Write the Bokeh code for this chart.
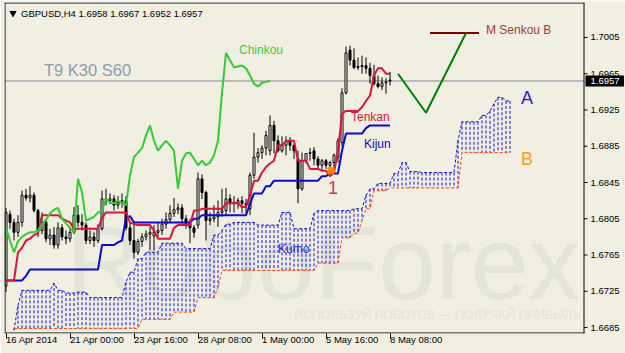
import numpy as np
from bokeh.plotting import figure
from bokeh.models import Range1d, LinearAxis, FixedTicker
from bokeh.embed import file_html
from bokeh.resources import INLINE
from bokeh.core.properties import value

# ---------------- data ----------------
title_text = "GBPUSD,H4  1.6958 1.6967 1.6952 1.6957"
settings_text = "T9 K30 S60"
price_ticks = [1.6685, 1.6725, 1.6765, 1.6805, 1.6845, 1.6885, 1.6925, 1.6965, 1.7005]
price_tick_labels = ["1.6685", "1.6725", "1.6765", "1.6805", "1.6845", "1.6885", "1.6925",
                     "1.6965", "1.7005"]
time_tick_bars = [0, 16, 32, 48, 64, 80, 96]
time_tick_labels = ["16 Apr 2014", "21 Apr 00:00", "23 Apr 16:00", "28 Apr 08:00",
                    "1 May 00:00", "5 May 16:00", "8 May 08:00"]
last_price = 1.6957
last_price_label = "1.6957"
shift = 30

opens = [1.6731, 1.6810, 1.6801, 1.6790, 1.6801, 1.6831, 1.6828, 1.6831, 1.6814, 1.6792,
         1.6801, 1.6783, 1.6787, 1.6776, 1.6795, 1.6785, 1.6783, 1.6790, 1.6809, 1.6801,
         1.6798, 1.6781, 1.6785, 1.6781, 1.6794, 1.6827, 1.6825, 1.6827, 1.6820, 1.6823,
         1.6825, 1.6795, 1.6781, 1.6768, 1.6780, 1.6785, 1.6788, 1.6786, 1.6790, 1.6792,
         1.6799, 1.6804, 1.6811, 1.6815, 1.6817, 1.6805, 1.6800, 1.6795, 1.6798, 1.6849,
         1.6834, 1.6803, 1.6805, 1.6807, 1.6812, 1.6814, 1.6827, 1.6823, 1.6822, 1.6825,
         1.6822, 1.6816, 1.6853, 1.6873, 1.6878, 1.6883, 1.6880, 1.6908, 1.6891, 1.6880,
         1.6886, 1.6891, 1.6886, 1.6871, 1.6838, 1.6869, 1.6877, 1.6880, 1.6871, 1.6864,
         1.6869, 1.6864, 1.6867, 1.6873, 1.6889, 1.6944, 1.6991, 1.6980, 1.6972, 1.6973,
         1.6974, 1.6971, 1.6963, 1.6954, 1.6951, 1.6955, 1.6958]
highs = [1.6817, 1.6814, 1.6805, 1.6809, 1.6836, 1.6838, 1.6841, 1.6834, 1.6816, 1.6812,
         1.6805, 1.6794, 1.6796, 1.6801, 1.6799, 1.6792, 1.6796, 1.6818, 1.6820, 1.6810,
         1.6801, 1.6792, 1.6790, 1.6799, 1.6836, 1.6838, 1.6833, 1.6831, 1.6830, 1.6833,
         1.6830, 1.6801, 1.6798, 1.6783, 1.6789, 1.6792, 1.6796, 1.6798, 1.6801, 1.6805,
         1.6812, 1.6820, 1.6828, 1.6822, 1.6821, 1.6809, 1.6805, 1.6798, 1.6856, 1.6854,
         1.6836, 1.6812, 1.6820, 1.6825, 1.6838, 1.6839, 1.6832, 1.6830, 1.6828, 1.6830,
         1.6827, 1.6856, 1.6900, 1.6883, 1.6886, 1.6902, 1.6919, 1.6913, 1.6897, 1.6896,
         1.6896, 1.6895, 1.6887, 1.6880, 1.6878, 1.6877, 1.6883, 1.6884, 1.6874, 1.6871,
         1.6871, 1.6869, 1.6877, 1.6894, 1.6949, 1.6995, 1.6996, 1.6993, 1.6983, 1.6985,
         1.6983, 1.6977, 1.6975, 1.6963, 1.6961, 1.6960, 1.6967]
lows = [1.6724, 1.6794, 1.6781, 1.6785, 1.6796, 1.6825, 1.6823, 1.6812, 1.6785, 1.6788,
        1.6779, 1.6776, 1.6772, 1.6772, 1.6781, 1.6777, 1.6779, 1.6788, 1.6796, 1.6792,
        1.6777, 1.6777, 1.6774, 1.6778, 1.6792, 1.6820, 1.6821, 1.6814, 1.6816, 1.6817,
        1.6792, 1.6776, 1.6761, 1.6765, 1.6774, 1.6781, 1.6770, 1.6770, 1.6785, 1.6787,
        1.6794, 1.6801, 1.6807, 1.6810, 1.6799, 1.6794, 1.6778, 1.6784, 1.6794, 1.6827,
        1.6781, 1.6798, 1.6801, 1.6796, 1.6807, 1.6809, 1.6812, 1.6812, 1.6816, 1.6811,
        1.6809, 1.6809, 1.6849, 1.6867, 1.6871, 1.6875, 1.6875, 1.6877, 1.6878, 1.6878,
        1.6875, 1.6880, 1.6871, 1.6822, 1.6836, 1.6866, 1.6869, 1.6864, 1.6860, 1.6858,
        1.6860, 1.6858, 1.6860, 1.6867, 1.6885, 1.6942, 1.6974, 1.6970, 1.6969, 1.6965,
        1.6965, 1.6954, 1.6952, 1.6949, 1.6947, 1.6943, 1.6952]
closes = [1.6812, 1.6801, 1.6790, 1.6801, 1.6831, 1.6828, 1.6831, 1.6814, 1.6792, 1.6801,
          1.6783, 1.6787, 1.6776, 1.6795, 1.6785, 1.6783, 1.6790, 1.6809, 1.6801, 1.6798,
          1.6781, 1.6785, 1.6781, 1.6794, 1.6827, 1.6825, 1.6827, 1.6820, 1.6823, 1.6825,
          1.6795, 1.6781, 1.6768, 1.6780, 1.6785, 1.6788, 1.6790, 1.6790, 1.6792, 1.6799,
          1.6804, 1.6811, 1.6815, 1.6817, 1.6805, 1.6800, 1.6795, 1.6790, 1.6849, 1.6834,
          1.6803, 1.6805, 1.6807, 1.6812, 1.6814, 1.6827, 1.6823, 1.6822, 1.6825, 1.6822,
          1.6820, 1.6853, 1.6873, 1.6878, 1.6883, 1.6897, 1.6908, 1.6891, 1.6880, 1.6886,
          1.6891, 1.6886, 1.6880, 1.6838, 1.6869, 1.6877, 1.6878, 1.6871, 1.6864, 1.6869,
          1.6864, 1.6867, 1.6875, 1.6891, 1.6944, 1.6988, 1.6980, 1.6972, 1.6973, 1.6974,
          1.6971, 1.6963, 1.6954, 1.6951, 1.6955, 1.6956, 1.6957]

tenkan = [1.6737, 1.6737, 1.6737, 1.6768, 1.6773, 1.6781, 1.6783, 1.6787, 1.6789, 1.6809,
          1.6809, 1.6809, 1.6809, 1.6809, 1.6805, 1.6803, 1.6801, 1.6794, 1.6794, 1.6794,
          1.6794, 1.6794, 1.6794, 1.6794, 1.6806, 1.6812, 1.6812, 1.6812, 1.6812, 1.6812,
          1.6812, 1.6801, 1.6799, 1.6798, 1.6798, 1.6798, 1.6798, 1.6792, 1.6783, 1.6783,
          1.6783, 1.6783, 1.6795, 1.6798, 1.6798, 1.6798, 1.6798, 1.6814, 1.6814, 1.6816,
          1.6816, 1.6816, 1.6816, 1.6816, 1.6816, 1.6822, 1.6822, 1.6822, 1.6822, 1.6818,
          1.6818, 1.6831, 1.6847, 1.6847, 1.6856, 1.6862, 1.6866, 1.6869, 1.6886, 1.6886,
          1.6891, 1.6891, 1.6891, 1.6869, 1.6869, 1.6869, 1.6860, 1.6860, 1.6860, 1.6858,
          1.6858, 1.6852, 1.6856, 1.6880, 1.6921, 1.6924, 1.6924, 1.6924, 1.6924, 1.6928,
          1.6935, 1.6941, 1.6963, 1.6971, 1.6971, 1.6965, 1.6965]
kijun = [1.6737, 1.6737, 1.6737, 1.6737, 1.6737, 1.6742, 1.6749, 1.6749, 1.6749, 1.6749,
         1.6749, 1.6749, 1.6749, 1.6749, 1.6749, 1.6749, 1.6749, 1.6749, 1.6749, 1.6749,
         1.6749, 1.6749, 1.6749, 1.6749, 1.6776, 1.6776, 1.6776, 1.6776, 1.6779, 1.6781,
         1.6806, 1.6808, 1.6801, 1.6801, 1.6801, 1.6801, 1.6801, 1.6801, 1.6801, 1.6801,
         1.6801, 1.6801, 1.6801, 1.6801, 1.6801, 1.6801, 1.6801, 1.6805, 1.6805, 1.6809,
         1.6809, 1.6809, 1.6809, 1.6809, 1.6809, 1.6809, 1.6809, 1.6809, 1.6809, 1.6809,
         1.6809, 1.6821, 1.6833, 1.6833, 1.6833, 1.6841, 1.6841, 1.6847, 1.6847, 1.6847,
         1.6847, 1.6847, 1.6847, 1.6847, 1.6847, 1.6847, 1.6847, 1.6847, 1.6847, 1.6852,
         1.6852, 1.6855, 1.6855, 1.6855, 1.6880, 1.6899, 1.6899, 1.6899, 1.6899, 1.6899,
         1.6905, 1.6908, 1.6908, 1.6908, 1.6908, 1.6908, 1.6908]

cloud_first_bar = 2
senkou_a = [1.6682, 1.6709, 1.6726, 1.6726, 1.6726, 1.6726, 1.6726, 1.6726, 1.6726, 1.6726,
            1.6734, 1.6726, 1.6726, 1.6723, 1.6723, 1.6723, 1.6724, 1.6724, 1.6724, 1.6718,
            1.6718, 1.6718, 1.6718, 1.6718, 1.6718, 1.6718, 1.6718, 1.6718, 1.6735, 1.6746,
            1.6746, 1.6761, 1.6761, 1.6768, 1.6768, 1.6768, 1.6768, 1.6778, 1.6778, 1.6778,
            1.6778, 1.6778, 1.6778, 1.6772, 1.6772, 1.6772, 1.6772, 1.6772, 1.6772, 1.6772,
            1.6787, 1.6787, 1.6792, 1.6799, 1.6799, 1.6801, 1.6801, 1.6801, 1.6801, 1.6801,
            1.6801, 1.6798, 1.6798, 1.6798, 1.6798, 1.6798, 1.6798, 1.6812, 1.6812, 1.6812,
            1.6794, 1.6794, 1.6794, 1.6794, 1.6794, 1.6811, 1.6814, 1.6814, 1.6814, 1.6814,
            1.6814, 1.6814, 1.6814, 1.6814, 1.6814, 1.6816, 1.6816, 1.6816, 1.6831, 1.6838,
            1.6838, 1.6844, 1.6844, 1.6844, 1.6844, 1.6855, 1.6855, 1.6867, 1.6867, 1.6857,
            1.6857, 1.6857, 1.6856, 1.6856, 1.6856, 1.6856, 1.6856, 1.6856, 1.6856, 1.6856,
            1.6856, 1.6891, 1.6912, 1.6912, 1.6912, 1.6912, 1.6912, 1.6919, 1.6919, 1.6924,
            1.6932, 1.6939, 1.6939, 1.6935, 1.6935]
senkou_b = [1.6684, 1.6684, 1.6684, 1.6684, 1.6684, 1.6684, 1.6684, 1.6684, 1.6684, 1.6684,
            1.6684, 1.6684, 1.6684, 1.6684, 1.6684, 1.6684, 1.6684, 1.6684, 1.6684, 1.6684,
            1.6684, 1.6684, 1.6684, 1.6684, 1.6684, 1.6684, 1.6684, 1.6684, 1.6684, 1.6684,
            1.6684, 1.6684, 1.6694, 1.6694, 1.6694, 1.6694, 1.6694, 1.6694, 1.6694, 1.6694,
            1.6702, 1.6702, 1.6702, 1.6702, 1.6702, 1.6702, 1.6718, 1.6718, 1.6718, 1.6718,
            1.6718, 1.6729, 1.6748, 1.6748, 1.6748, 1.6748, 1.6748, 1.6748, 1.6748, 1.6748,
            1.6748, 1.6748, 1.6748, 1.6748, 1.6748, 1.6748, 1.6748, 1.6748, 1.6748, 1.6748,
            1.6748, 1.6748, 1.6748, 1.6748, 1.6748, 1.6748, 1.6756, 1.6756, 1.6756, 1.6756,
            1.6756, 1.6756, 1.6784, 1.6784, 1.6784, 1.6789, 1.6789, 1.6803, 1.6816, 1.6816,
            1.6836, 1.6836, 1.6836, 1.6836, 1.6839, 1.6839, 1.6839, 1.6839, 1.6839, 1.6839,
            1.6839, 1.6839, 1.6839, 1.6839, 1.6839, 1.6839, 1.6839, 1.6839, 1.6839, 1.6839,
            1.6839, 1.6839, 1.6878, 1.6878, 1.6878, 1.6878, 1.6878, 1.6878, 1.6878, 1.6878,
            1.6878, 1.6878, 1.6878, 1.6878, 1.6878]

# hand-drawn forecast path and monthly Senkou B level
forecast_bars = [98, 105, 115]
forecast_prices = [1.6965, 1.6922, 1.7010]
monthly_sb_bars = [106, 118.25]
monthly_sb_price = 1.7010

# ---------------- layout constants (bar index / price units) ----------------
X0, X1 = -0.375, 154.875          # whole drawing area incl. price scale
Y0, Y1 = 1.66784, 1.70436
CHART_R = 144.5                   # right border of the chart window
PX = 0.25                         # one pixel in bar units
PY = 0.0001103                    # one pixel in price units

BG = "#f1efe2"
FONT = "Liberation Sans"
WM = "#e3e4da"

p = figure(width=625, height=353, x_range=Range1d(X0, X1), y_range=Range1d(Y0, Y1),
           output_backend="svg", toolbar_location=None,
           x_axis_location=None, y_axis_location=None,
           min_border_left=4, min_border_right=0, min_border_top=2, min_border_bottom=20,
           background_fill_color=BG, border_fill_color=BG, outline_line_color=None)
p.xgrid.visible = False
p.ygrid.visible = False

xaxis = LinearAxis(ticker=FixedTicker(ticks=time_tick_bars),
                   major_label_overrides=dict(zip(time_tick_bars, time_tick_labels)),
                   major_tick_in=0, major_tick_out=5, minor_tick_in=0, minor_tick_out=0,
                   major_label_standoff=1, major_label_orientation=-0.0001,
                   major_label_text_font=FONT, major_label_text_font_size="9.5px",
                   major_label_text_color="black",
                   axis_line_color=None, major_tick_line_color="black")
p.add_layout(xaxis, "below")

# watermark
p.text(x=[15], y=[1.67567], text=["RoboForex"], text_font=value(FONT), text_font_size="104px",
       text_color=WM, text_align="left", text_baseline="middle")
p.text(x=[72], y=[1.66993], text=["ИСПОЛЬЗУЙ РОБОТОВ — ПОЛУЧАЙ ПРИБЫЛЬ"], text_font=value(FONT),
       text_font_size="12.5px", text_color=WM, text_align="left", text_baseline="middle")

# cloud (kumo) hatching
kb = np.arange(len(senkou_a)) + cloud_first_bar
p.segment(x0=kb, y0=senkou_a, x1=kb, y1=senkou_b, line_color="#1010e0", line_width=1,
          line_dash="3 2")
p.line(kb, senkou_a, line_color="#1010e0", line_width=1, line_dash="3 2")
p.line(kb, senkou_b, line_color="#ff4500", line_width=1, line_dash="3 2")

# bid line
p.segment(x0=[X0], y0=[last_price], x1=[CHART_R], y1=[last_price], line_color="#7f8a94",
          line_width=1)

# candles
bars = np.arange(len(opens))
o = np.array(opens); c = np.array(closes)
up = c >= o
p.segment(x0=bars, y0=lows, x1=bars, y1=highs, line_color="black", line_width=1)
p.vbar(x=bars[up], top=c[up], bottom=o[up], width=0.5, fill_color="white", line_color="black",
       line_width=1)
p.vbar(x=bars[~up], top=o[~up], bottom=c[~up], width=0.5, fill_color="black", line_color="black",
       line_width=1)

# Ichimoku lines
p.line(bars, kijun, line_color="#0a0ad0", line_width=2)
p.line(bars, tenkan, line_color="#dc143c", line_width=2)
p.line(bars[shift:] - shift, closes[shift:], line_color="#32cd32", line_width=2)

# forecast and monthly Senkou B
p.line(monthly_sb_bars, [monthly_sb_price, monthly_sb_price], line_color="#800000", line_width=2)
p.line(forecast_bars, forecast_prices, line_color="#008000", line_width=2)

# cross marker
p.scatter(x=[81.25], y=[1.6858], marker="square", size=6, fill_color="#ff8c00",
          line_color="#ff8c00")

def txt(x, y, s, color, size, align="left"):
    p.text(x=[x], y=[y], text=[s], text_font=value(FONT), text_font_size=size,
           text_color=color, text_align=align, text_baseline="middle")

txt(58.25, 1.6991, "Chinkou", "#3ccc3c", "12px")
txt(86.25, 1.6917, "Tenkan", "#dc143c", "12px")
txt(89.5, 1.6888, "Kijun", "#0a0ad0", "12px")
txt(68, 1.6772, "Kumo", "#2424d8", "12px")
txt(81.75, 1.6839, "1", "#e0305a", "18px", "center")
txt(128.75, 1.6938, "A", "#1e1ee0", "18px")
txt(128.75, 1.6871, "B", "#ff9a1e", "18px")
txt(120, 1.7013, "M Senkou B", "#a0403c", "12px")
txt(9.5, 1.69686, settings_text, "#8c9baf", "16.5px")
txt(3.75, 1.70315, title_text, "black", "9.5px")
p.scatter(x=[1.75], y=[1.70318], marker="inverted_triangle", size=6, color="black")

# chart window border
p.multi_line(xs=[[X0 + 0.5 * PX, X0 + 0.5 * PX], [X0, CHART_R + 0.5 * PX],
                 [CHART_R, CHART_R], [X0, CHART_R + 0.5 * PX]],
             ys=[[Y0, Y1], [Y1 - 0.5 * PY, Y1 - 0.5 * PY], [Y0, Y1], [Y0 + 0.5 * PY, Y0 + 0.5 * PY]],
             line_color="black", line_width=1)

# price scale (right): ticks and labels
p.segment(x0=[CHART_R] * len(price_ticks), y0=price_ticks,
          x1=[CHART_R + 3.5 * PX] * len(price_ticks), y1=price_ticks,
          line_color="black", line_width=1)
p.text(x=[CHART_R + 6.5 * PX] * len(price_ticks), y=price_ticks, text=price_tick_labels,
       text_font=value(FONT), text_font_size="9.5px", text_color="black",
       text_align="left", text_baseline="middle")

# current price box
p.quad(left=[CHART_R + 1.5 * PX], right=[CHART_R + 40 * PX],
       bottom=[last_price - 5.5 * PY], top=[last_price + 5.5 * PY],
       fill_color="black", line_color=None)
p.text(x=[CHART_R + 6.5 * PX], y=[last_price], text=[last_price_label],
       text_font=value(FONT), text_font_size="9.5px", text_color="white",
       text_align="left", text_baseline="middle")

open("out.html", "w").write(file_html(p, INLINE))
